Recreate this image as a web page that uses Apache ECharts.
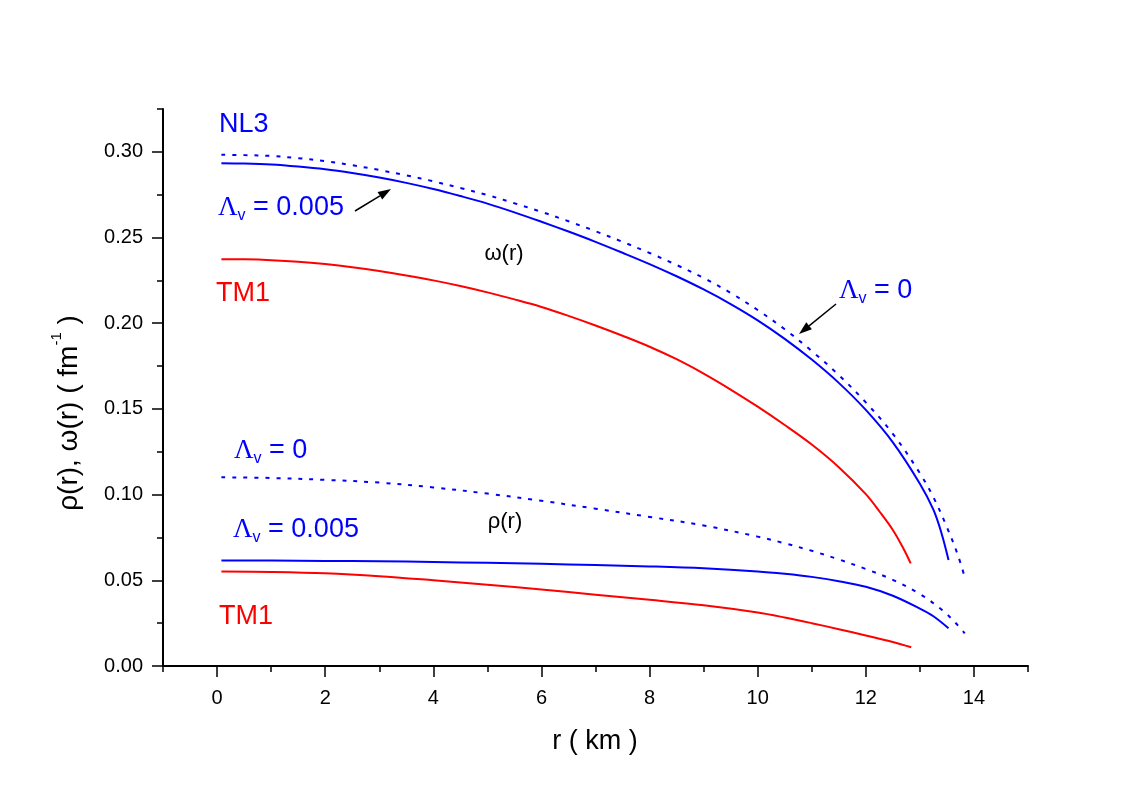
<!DOCTYPE html>
<html>
<head>
<meta charset="utf-8">
<title>rho(r), omega(r)</title>
<script src="https://cdn.jsdelivr.net/npm/echarts@6/dist/echarts.min.js"></script>
<style>
  html, body { margin: 0; padding: 0; background: #fff; }
  #main { width: 1132px; height: 789px; }
</style>
</head>
<body>
<div id="main"></div>
<script>
// omega(r), NL3, Lambda_v = 0.005 (solid blue)
var omegaNL3R = [0.08, 0.5, 1, 1.5, 2, 2.5, 3, 3.5, 4, 4.5, 5, 5.5, 6, 6.5, 7, 7.5, 8, 8.5, 9, 9.5, 10, 10.5, 11, 11.5, 12, 12.5, 13, 13.25, 13.4, 13.53];
var omegaNL3V = [0.2934, 0.2932, 0.2926, 0.2914, 0.2898, 0.2876, 0.2850, 0.2819, 0.2783, 0.2742, 0.2698, 0.2647, 0.2592, 0.2535, 0.2475, 0.2411, 0.2345, 0.2274, 0.2197, 0.2112, 0.2017, 0.1909, 0.1788, 0.1652, 0.1494, 0.1305, 0.1064, 0.0912, 0.0775, 0.0619];
// omega(r), NL3, Lambda_v = 0 (dotted blue)
var omegaNL3ZeroR = [0.08, 0.5, 1, 1.5, 2, 2.5, 3, 3.5, 4, 4.5, 5, 5.5, 6, 6.5, 7, 7.5, 8, 8.5, 9, 9.5, 10, 10.5, 11, 11.5, 12, 12.5, 13, 13.25, 13.5, 13.7, 13.83];
var omegaNL3ZeroV = [0.2983, 0.2981, 0.2976, 0.2963, 0.2946, 0.2922, 0.2894, 0.2863, 0.2828, 0.2789, 0.2748, 0.2700, 0.2650, 0.2595, 0.2537, 0.2475, 0.2410, 0.2340, 0.2264, 0.2177, 0.2077, 0.1965, 0.1838, 0.1698, 0.1538, 0.1355, 0.1125, 0.0985, 0.0810, 0.0650, 0.0518];
// omega(r), TM1 (red)
var omegaTM1R = [0.08, 0.5, 1, 1.5, 2, 2.5, 3, 3.5, 4, 4.5, 5, 5.5, 6, 6.5, 7, 7.5, 8, 8.5, 9, 9.5, 10, 10.5, 11, 11.5, 12, 12.25, 12.5, 12.7, 12.83];
var omegaTM1V = [0.2374, 0.2373, 0.2368, 0.2359, 0.2345, 0.2327, 0.2305, 0.2279, 0.2250, 0.2217, 0.2180, 0.2139, 0.2095, 0.2043, 0.1987, 0.1927, 0.1863, 0.1790, 0.1706, 0.1613, 0.1513, 0.1406, 0.1292, 0.1160, 0.1003, 0.0903, 0.0794, 0.0683, 0.0599];
// rho(r), NL3, Lambda_v = 0 (dotted blue)
var rhoNL3ZeroR = [0.08, 1, 2, 3, 4, 5, 6, 7, 8, 9, 10, 10.5, 11, 11.5, 12, 12.5, 13, 13.4, 13.65, 13.83];
var rhoNL3ZeroV = [0.1101, 0.1097, 0.1086, 0.1070, 0.1042, 0.1006, 0.0964, 0.0918, 0.0870, 0.0820, 0.0755, 0.0716, 0.0672, 0.0622, 0.0566, 0.0503, 0.0420, 0.0330, 0.0255, 0.0190];
// rho(r), NL3, Lambda_v = 0.005 (solid blue)
var rhoNL3R = [0.08, 1, 2, 3, 4, 5, 6, 7, 8, 9, 10, 10.5, 11, 11.5, 12, 12.5, 13, 13.25, 13.53];
var rhoNL3V = [0.0615, 0.0615, 0.0613, 0.0611, 0.0607, 0.0602, 0.0596, 0.0589, 0.0581, 0.0570, 0.0552, 0.0538, 0.0520, 0.0495, 0.0462, 0.0410, 0.0335, 0.0290, 0.0220];
// rho(r), TM1 (red)
var rhoTM1R = [0.08, 1, 2, 3, 4, 5, 6, 7, 8, 9, 10, 10.5, 11, 11.5, 12, 12.5, 12.84];
var rhoTM1V = [0.0552, 0.0549, 0.0541, 0.0524, 0.0500, 0.0474, 0.0446, 0.0416, 0.0386, 0.0354, 0.0312, 0.0283, 0.0250, 0.0215, 0.0178, 0.0140, 0.0109];

// tick labels
var xMajorTicks = [0, 2, 4, 6, 8, 10, 12, 14];
var yMajorTicks = [0, 0.05, 0.10, 0.15, 0.20, 0.25, 0.30];

var FONT = '"Liberation Sans", Arial, sans-serif';
var SERIF = '"Liberation Serif", "Times New Roman", serif';
var BLUE = '#0000ff';
var RED = '#ff0000';

function zip(r, v) {
  var out = [];
  for (var i = 0; i < r.length; i++) out.push([r[i], v[i]]);
  return out;
}

function line(name, r, v, color, dotted) {
  return {
    name: name,
    type: 'line',
    data: zip(r, v),
    showSymbol: false,
    symbol: 'none',
    smooth: 0.35,
    lineStyle: {
      color: color,
      width: 2,
      type: dotted ? [4, 7] : 'solid'
    },
    z: 3
  };
}

// Lambda_v label with subscript
function lambdaText(x, y, rest) {
  return {
    type: 'text',
    x: x,
    y: y,
    style: {
      text: '{l|Λ}{s|v}{b|' + rest + '}',
      fill: BLUE,
      align: 'left',
      verticalAlign: 'middle',
      textAlign: 'left',
      textVerticalAlign: 'middle',
      rich: {
        l: { fontFamily: SERIF, fontSize: 27, fill: BLUE, color: BLUE, verticalAlign: 'middle', lineHeight: 31 },
        s: { fontFamily: FONT, fontSize: 16, fill: BLUE, color: BLUE, verticalAlign: 'bottom', lineHeight: 16 },
        b: { fontFamily: FONT, fontSize: 27, fill: BLUE, color: BLUE, verticalAlign: 'middle', lineHeight: 31 }
      }
    }
  };
}

function plainText(x, y, text, color, size, align) {
  return {
    type: 'text',
    x: x,
    y: y,
    style: {
      text: text,
      fill: color,
      font: size + 'px ' + FONT,
      align: align || 'left',
      verticalAlign: 'middle',
      textAlign: align || 'left',
      textVerticalAlign: 'middle'
    }
  };
}

function arrow(x1, y1, x2, y2) {
  var ang = Math.atan2(y2 - y1, x2 - x1);
  var len = 13, half = 4.5;
  var bx = x2 - len * Math.cos(ang), by = y2 - len * Math.sin(ang);
  var px = -Math.sin(ang) * half, py = Math.cos(ang) * half;
  return {
    type: 'group',
    children: [{
      type: 'line',
      shape: { x1: x1, y1: y1, x2: bx, y2: by },
      style: { stroke: '#000', lineWidth: 1.5 }
    }, {
      type: 'polygon',
      shape: { points: [[x2, y2], [bx + px, by + py], [bx - px, by - py]] },
      style: { fill: '#000' }
    }]
  };
}

function isMajor(v, step) {
  return Math.abs(v / step - Math.round(v / step)) < 1e-6;
}

var chart = echarts.init(document.getElementById('main'), null, { renderer: 'canvas' });

var option = {
  backgroundColor: '#ffffff',
  animation: false,
  textStyle: { fontFamily: FONT, color: '#000' },
  grid: { left: 163, right: 104, top: 109, bottom: 123, containLabel: false },
  xAxis: [{
    type: 'value',
    min: -1,
    max: 15,
    interval: 1,
    position: 'bottom',
    axisLine: { onZero: false, lineStyle: { color: '#000', width: 2 } },
    axisTick: { show: true, length: 6, lineStyle: { color: '#000', width: 1.5 } },
    axisLabel: {
      margin: 22,
      fontSize: 20,
      color: '#000',
      fontFamily: FONT,
      formatter: function (v) {
        return xMajorTicks.indexOf(Math.round(v)) >= 0 && isMajor(v, 2) ? String(Math.round(v)) : '';
      }
    },
    splitLine: { show: false }
  }, {
    type: 'value',
    min: -1,
    max: 15,
    position: 'bottom',
    axisLine: { show: false, onZero: false },
    axisTick: { show: true, length: 11, customValues: xMajorTicks, lineStyle: { color: '#000', width: 1.5 } },
    axisLabel: { show: false },
    splitLine: { show: false }
  }],
  yAxis: [{
    type: 'value',
    min: 0,
    max: 0.325,
    interval: 0.025,
    position: 'left',
    axisLine: { show: true, onZero: false, lineStyle: { color: '#000', width: 2 } },
    axisTick: { show: true, length: 6, lineStyle: { color: '#000', width: 1.5 } },
    axisLabel: {
      margin: 20,
      fontSize: 20,
      color: '#000',
      fontFamily: FONT,
      formatter: function (v) {
        return isMajor(v, 0.05) && v < 0.31 ? v.toFixed(2) : '';
      }
    },
    splitLine: { show: false }
  }, {
    type: 'value',
    min: 0,
    max: 0.325,
    position: 'left',
    axisLine: { show: false, onZero: false },
    axisTick: { show: true, length: 11, customValues: yMajorTicks, lineStyle: { color: '#000', width: 1.5 } },
    axisLabel: { show: false },
    splitLine: { show: false }
  }],
  series: [
    line('omega NL3 0.005', omegaNL3R, omegaNL3V, BLUE, false),
    line('omega NL3 0', omegaNL3ZeroR, omegaNL3ZeroV, BLUE, true),
    line('omega TM1', omegaTM1R, omegaTM1V, RED, false),
    line('rho NL3 0', rhoNL3ZeroR, rhoNL3ZeroV, BLUE, true),
    line('rho NL3 0.005', rhoNL3R, rhoNL3V, BLUE, false),
    line('rho TM1', rhoTM1R, rhoTM1V, RED, false)
  ],
  graphic: [
    // axis titles
    plainText(595, 742, 'r ( km )', '#000', 27, 'center'),
    {
      type: 'text',
      x: 66,
      y: 413,
      rotation: Math.PI / 2,
      style: {
        text: '{m|ρ(r), ω(r) ( fm}{u|-1}{m| )}',
        align: 'center',
        verticalAlign: 'middle',
        textAlign: 'center',
        textVerticalAlign: 'middle',
        fill: '#000',
        rich: {
          m: { fontFamily: FONT, fontSize: 28, fill: '#000', color: '#000', verticalAlign: 'bottom', lineHeight: 34 },
          u: { fontFamily: FONT, fontSize: 15, fill: '#000', color: '#000', verticalAlign: 'top', lineHeight: 15 }
        }
      }
    },
    // curve labels
    plainText(219, 125, 'NL3', BLUE, 27),
    lambdaText(218, 208, ' = 0.005'),
    plainText(216, 294, 'TM1', RED, 27),
    lambdaText(839, 291, ' = 0'),
    lambdaText(234, 451, ' = 0'),
    lambdaText(233, 530, ' = 0.005'),
    plainText(219, 617, 'TM1', RED, 27),
    plainText(504, 254, 'ω(r)', '#000', 22, 'center'),
    plainText(505, 522, 'ρ(r)', '#000', 22, 'center'),
    arrow(355, 211, 391, 189),
    arrow(836, 304, 799, 334)
  ]
};

chart.setOption(option);
</script>
</body>
</html>
